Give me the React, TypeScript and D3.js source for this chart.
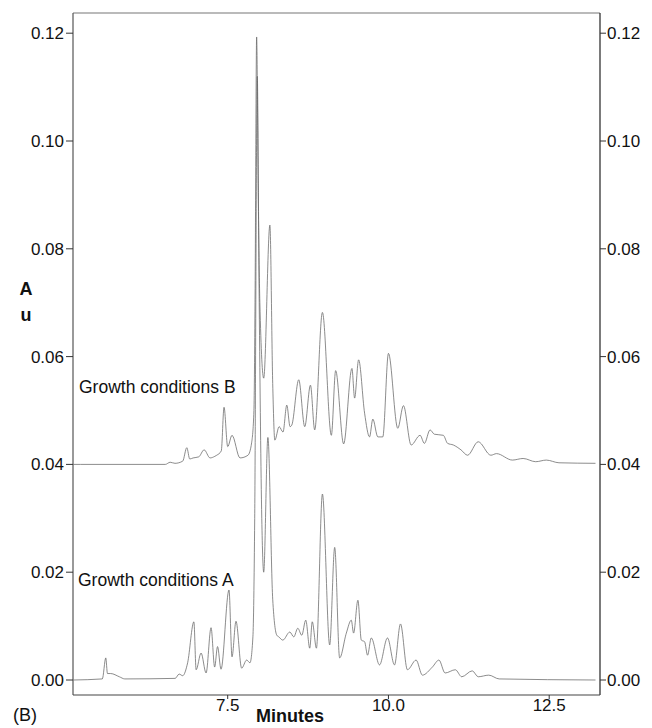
import React from "react";
import * as d3 from "d3";

// Trace B (upper, offset baseline 0.04) — time (min), absorbance (AU)
const timesB = [5.1, 5.21, 6.53, 6.605, 6.68, 6.8, 6.864, 6.91, 6.962, 7.05, 7.133, 7.226, 7.3, 7.329, 7.4, 7.443, 7.5, 7.567, 7.691, 7.815, 7.872, 7.908, 7.925, 7.95, 7.975, 8.0, 8.06, 8.156, 8.2, 8.233, 8.3, 8.36, 8.419, 8.47, 8.497, 8.605, 8.698, 8.787, 8.853, 8.973, 9.112, 9.179, 9.303, 9.432, 9.474, 9.536, 9.629, 9.706, 9.757, 9.835, 9.912, 10.0, 10.145, 10.233, 10.353, 10.492, 10.559, 10.647, 10.714, 10.853, 10.92, 11.009, 11.128, 11.23, 11.396, 11.593, 11.68, 11.928, 12.094, 12.29, 12.455, 12.652, 13.22];
const valuesB = [0.04, 0.04, 0.04, 0.0404, 0.0402, 0.0406, 0.0431, 0.041, 0.0412, 0.0414, 0.0427, 0.0412, 0.0415, 0.0417, 0.0425, 0.0506, 0.0433, 0.0454, 0.0412, 0.0417, 0.044, 0.05, 0.07, 0.1193, 0.09, 0.07, 0.056, 0.0844, 0.055, 0.0445, 0.047, 0.046, 0.051, 0.047, 0.0473, 0.0557, 0.047, 0.0547, 0.0464, 0.0682, 0.0454, 0.0574, 0.0438, 0.0578, 0.0523, 0.0594, 0.0495, 0.0451, 0.0484, 0.0451, 0.0451, 0.0606, 0.0467, 0.0509, 0.0436, 0.0454, 0.0439, 0.0464, 0.0456, 0.0454, 0.0439, 0.0436, 0.0427, 0.0417, 0.0442, 0.0417, 0.042, 0.0408, 0.0411, 0.0405, 0.0408, 0.0403, 0.0402];

// Trace A (lower)
const timesA = [5.1, 5.55, 5.604, 5.63, 5.68, 5.815, 5.9, 6.683, 6.745, 6.8, 6.877, 6.974, 7.009, 7.086, 7.164, 7.241, 7.297, 7.342, 7.396, 7.52, 7.567, 7.629, 7.717, 7.795, 7.846, 7.892, 7.92, 7.96, 7.99, 8.03, 8.06, 8.125, 8.2, 8.264, 8.295, 8.357, 8.466, 8.528, 8.59, 8.652, 8.714, 8.776, 8.815, 8.88, 8.973, 9.086, 9.164, 9.241, 9.345, 9.422, 9.458, 9.525, 9.578, 9.629, 9.675, 9.733, 9.861, 9.985, 10.094, 10.187, 10.295, 10.43, 10.528, 10.683, 10.785, 10.881, 11.04, 11.14, 11.303, 11.396, 11.56, 11.722, 13.22];
const valuesA = [0.0, 0.0002, 0.0041, 0.0012, 0.0012, 0.0006, 0.0002, 0.0003, 0.0011, 0.0008, 0.0032, 0.0108, 0.0019, 0.005, 0.0013, 0.0097, 0.0024, 0.0062, 0.002, 0.0167, 0.0043, 0.0109, 0.0022, 0.0037, 0.0032, 0.008, 0.03, 0.112, 0.07, 0.03, 0.02, 0.045, 0.015, 0.0083, 0.008, 0.0074, 0.0089, 0.008, 0.0096, 0.0083, 0.0111, 0.0059, 0.0108, 0.0059, 0.0345, 0.0065, 0.0246, 0.0041, 0.0087, 0.0111, 0.0087, 0.0148, 0.0074, 0.0071, 0.0046, 0.0078, 0.0028, 0.0078, 0.0028, 0.0104, 0.0019, 0.0037, 0.0009, 0.0024, 0.0037, 0.0013, 0.0019, 0.0006, 0.0017, 0.0006, 0.0009, 0.0002, 0.0];

const yTicks = [0.0, 0.02, 0.04, 0.06, 0.08, 0.1, 0.12];
const xTicks = [7.5, 10.0, 12.5];
const seriesLabels = ["Growth conditions B", "Growth conditions A"];

const FONT = "'Liberation Sans', Arial, Helvetica, sans-serif";

export default function App() {
  const left = 73, right = 600, top = 13, bottom = 695;
  const x = d3.scaleLinear().domain([7.5, 12.5]).range([227.7, 549.2]);
  const y = d3.scaleLinear().domain([0, 0.12]).range([680, 33.2]);

  const line = d3
    .line<[number, number]>()
    .x((d) => x(d[0]))
    .y((d) => y(d[1]))
    .curve(d3.curveMonotoneX);

  const dataB: [number, number][] = timesB.map((t, i) => [t, valuesB[i]]);
  const dataA: [number, number][] = timesA.map((t, i) => [t, valuesA[i]]);

  return (
    <svg
      width={652}
      height={728}
      style={{ position: "absolute", left: 0, top: 0, background: "#fff" }}
      fontFamily={FONT}
    >
      <rect x={0} y={0} width={652} height={728} fill="#fff" />
      {/* traces */}
      <path d={line(dataB) || ""} fill="none" stroke="#666" strokeWidth={0.75} />
      <path d={line(dataA) || ""} fill="none" stroke="#666" strokeWidth={0.75} />

      {/* frame */}
      <line x1={left} x2={right} y1={top} y2={top} stroke="#777" strokeWidth={1.2} />
      <line x1={left} x2={left} y1={top} y2={bottom} stroke="#555" strokeWidth={1.2} />
      <line x1={right} x2={right} y1={top} y2={bottom} stroke="#222" strokeWidth={1.2} />
      <line x1={left} x2={right} y1={bottom} y2={bottom} stroke="#444" strokeWidth={1.2} />

      {/* y ticks left & right */}
      {yTicks.map((v) => (
        <g key={v}>
          <line x1={left - 7} x2={left} y1={y(v)} y2={y(v)} stroke="#333" strokeWidth={1} />
          <text x={left - 9} y={y(v)} dy="0.35em" textAnchor="end" fontSize={17} fill="#111">
            {v.toFixed(2)}
          </text>
          <line x1={right} x2={right + 6} y1={y(v)} y2={y(v)} stroke="#333" strokeWidth={1} />
          <text x={right + 7} y={y(v)} dy="0.35em" textAnchor="start" fontSize={17} fill="#111">
            {v.toFixed(2)}
          </text>
        </g>
      ))}

      {/* x ticks */}
      {xTicks.map((t) => (
        <g key={t}>
          <line x1={x(t)} x2={x(t)} y1={bottom} y2={bottom + 4} stroke="#333" strokeWidth={1} />
          <text x={x(t)} y={711} textAnchor="middle" fontSize={17} fill="#111">
            {t.toFixed(1)}
          </text>
        </g>
      ))}

      {/* axis titles */}
      <text x={290} y={722} textAnchor="middle" fontSize={18} fontWeight="bold" fill="#111">
        Minutes
      </text>
      <text x={26} y={295} textAnchor="middle" fontSize={18} fontWeight="bold" fill="#111">
        A
      </text>
      <text x={26} y={321} textAnchor="middle" fontSize={18} fontWeight="bold" fill="#111">
        u
      </text>
      <text x={13} y={721} fontSize={18} fill="#111">
        (B)
      </text>

      {/* series labels */}
      <text x={79} y={393} fontSize={17.5} fill="#111">
        {seriesLabels[0]}
      </text>
      <text x={78} y={586} fontSize={17.5} fill="#111">
        {seriesLabels[1]}
      </text>
    </svg>
  );
}
